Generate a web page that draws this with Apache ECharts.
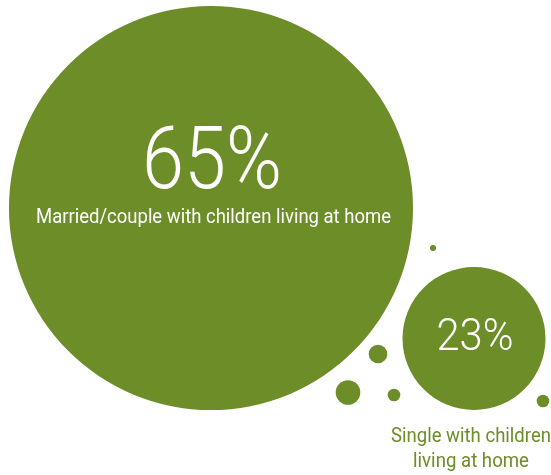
<!DOCTYPE html>
<html>
<head>
<meta charset="utf-8">
<script src="https://cdn.jsdelivr.net/npm/echarts@6/dist/echarts.min.js"></script>
<style>
  html, body { margin: 0; padding: 0; background: #ffffff; }
  #chart { width: 551px; height: 475px; }
</style>
</head>
<body>
<div id="chart"></div>
<script>
// Household type shares (percent)
const categories = ['Married/couple with children living at home', 'Single with children\nliving at home'];
const shares = [65, 23];

// ---- layout & styling ----
const W = 551, H = 475;
const GREEN = '#6c8d27';
const centers = [[211, 208], [474, 338.5]];   // bubble centres in canvas units
const pxPerPoint = 3.108;                     // bubble radius per percentage point
const textLayout = [
  { valueSize: 87, valueDx: 1, valueDy: -42, valueWidth: 140,
    nameSize: 21, nameDx: 2.5, nameDy: 10, nameWidths: [355], nameColor: '#ffffff' },
  { valueSize: 45, valueDx: 1, valueDy: 0.5, valueWidth: 77,
    nameSize: 21, nameDx: -3, nameDy: 98.5, nameWidths: [160, 116], nameColor: GREEN }
];
const lineGap = 25;
// small decorative dots: [x, y, diameter]
const dots = [[433, 248, 6], [378, 354, 18.6], [348, 392.5, 24.6], [394, 395, 12.6], [543, 401, 12.6]];

const FAMILY = 'Roboto';
const measureCtx = document.createElement('canvas').getContext('2d');
function fitScale(text, font, width) {
  measureCtx.font = font;
  return width / measureCtx.measureText(text).width;
}

function textEl(str, x, y, weight, size, color, width) {
  const font = weight + ' ' + size + 'px ' + FAMILY;
  return {
    type: 'text',
    x: x, y: y,
    scaleX: fitScale(str, font, width),
    style: {
      text: str, x: 0, y: 0,
      font: font,
      fill: color, textFill: color,
      textAlign: 'center', textVerticalAlign: 'middle',
      align: 'center', verticalAlign: 'middle'
    }
  };
}

function renderBubble(params, api) {
  const i = params.dataIndex;
  const c = api.coord([api.value(0), api.value(1)]);
  const value = api.value(2);
  const r = api.size([value * pxPerPoint, 0])[0];
  const t = textLayout[i];
  const children = [{
    type: 'circle',
    shape: { cx: c[0], cy: c[1], r: r },
    style: { fill: GREEN }
  }];
  children.push(textEl(value + '%', c[0] + t.valueDx, c[1] + t.valueDy, 300, t.valueSize, '#ffffff', t.valueWidth));
  categories[i].split('\n').forEach(function (line, k) {
    children.push(textEl(line, c[0] + t.nameDx, c[1] + t.nameDy + k * lineGap, 400, t.nameSize, t.nameColor, t.nameWidths[k]));
  });
  return { type: 'group', children: children };
}

const chart = echarts.init(document.getElementById('chart'), null, { renderer: 'canvas' });
chart.setOption({
  animation: false,
  backgroundColor: '#ffffff',
  grid: { left: 0, top: 0, width: W, height: H, containLabel: false },
  xAxis: { type: 'value', min: 0, max: W, show: false },
  yAxis: { type: 'value', min: 0, max: H, inverse: true, show: false },
  series: [
    {
      type: 'scatter',
      silent: true,
      symbol: 'circle',
      symbolSize: function (v) { return v[2]; },
      itemStyle: { color: GREEN, opacity: 1 },
      data: dots,
      z: 1
    },
    {
      type: 'custom',
      silent: true,
      renderItem: renderBubble,
      data: shares.map(function (v, i) { return [centers[i][0], centers[i][1], v]; }),
      z: 2
    }
  ]
});
</script>
</body>
</html>
